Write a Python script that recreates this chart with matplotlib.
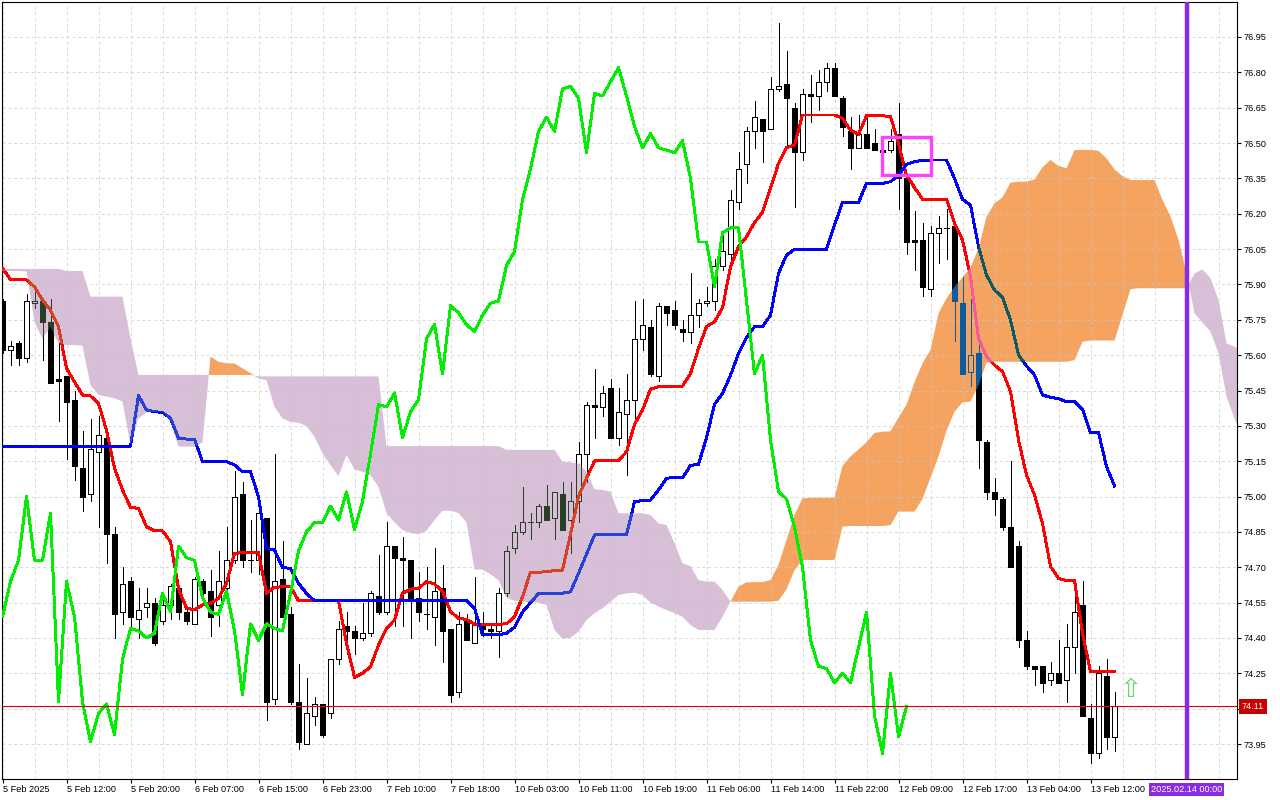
import numpy as np
import matplotlib
matplotlib.use("Agg")
import matplotlib.pyplot as plt
from matplotlib.path import Path
from matplotlib.patches import Rectangle
from matplotlib.transforms import blended_transform_factory, ScaledTranslation

plt.rcParams['font.family'] = ['Liberation Sans', 'DejaVu Sans']

# ---------------- data (H1 bars) ----------------
open_ = [75.83, 75.62, 75.65, 75.59, 75.82, 75.83, 75.74, 75.50, 75.51, 75.41,
         75.12, 75.01, 75.19, 75.25, 74.84, 74.51, 74.64, 74.48, 74.53, 74.55,
         74.47, 74.54, 74.61, 74.51, 74.46, 74.64, 74.60, 74.54, 74.61, 74.73,
         75.01, 74.73, 74.73, 74.91, 74.14, 74.65, 74.50, 74.13, 73.95, 74.07,
         74.12, 74.08, 74.31, 74.45, 74.43, 74.40, 74.42, 74.58, 74.51, 74.79,
         74.74, 74.73, 74.57, 74.50, 74.49, 74.61, 74.44, 74.17, 74.47, 74.38,
         74.45, 74.44, 74.43, 74.59, 74.78, 74.85, 74.89, 74.89, 74.96, 74.91,
         75.01, 74.90, 74.98, 75.18, 75.39, 75.38, 75.46, 75.25, 75.35, 75.41,
         75.67, 75.72, 75.51, 75.81, 75.79, 75.71, 75.70, 75.77, 75.82, 75.83,
         75.98, 76.03, 76.25, 76.41, 76.55, 76.60, 76.56, 76.73, 76.75, 76.65,
         76.46, 76.71, 76.70, 76.76, 76.82, 76.69, 76.55, 76.48, 76.54, 76.50,
         76.47, 76.47, 76.54, 76.35, 76.09, 76.09, 75.88, 76.12, 76.14, 76.15,
         75.82, 75.53, 75.61, 75.23, 75.02, 74.99, 74.87, 74.79, 74.39, 74.28,
         74.28, 74.22, 74.25, 74.22, 74.36, 74.54, 74.06, 73.91, 74.24, 73.98]

high = [75.84, 75.66, 75.66, 75.86, 75.89, 75.84, 75.84, 75.65, 75.51, 75.45,
        75.28, 75.33, 75.34, 75.25, 74.87, 74.70, 74.66, 74.61, 74.61, 74.57,
        74.59, 74.63, 74.62, 74.52, 74.66, 74.65, 74.69, 74.77, 74.87, 75.11,
        75.06, 74.90, 74.96, 74.91, 75.18, 74.81, 74.53, 74.29, 74.23, 74.15,
        74.12, 74.31, 74.47, 74.51, 74.45, 74.55, 74.60, 74.75, 74.89, 74.79,
        74.83, 74.73, 74.68, 74.70, 74.78, 74.71, 74.44, 74.51, 74.50, 74.66,
        74.51, 74.46, 74.61, 74.79, 74.88, 75.04, 74.93, 74.97, 75.05, 75.02,
        75.06, 75.06, 75.23, 75.40, 75.54, 75.47, 75.50, 75.46, 75.52, 75.83,
        75.84, 75.75, 75.82, 75.81, 75.83, 75.75, 75.95, 75.84, 75.89, 76.01,
        76.12, 76.30, 76.46, 76.57, 76.68, 76.60, 76.78, 77.01, 76.89, 76.67,
        76.73, 76.79, 76.81, 76.84, 76.84, 76.70, 76.61, 76.62, 76.62, 76.56,
        76.50, 76.56, 76.67, 76.35, 76.21, 76.16, 76.15, 76.19, 76.22, 76.15,
        75.93, 75.84, 75.65, 75.24, 75.08, 75.00, 75.15, 74.81, 74.43, 74.28,
        74.28, 74.30, 74.39, 74.46, 74.60, 74.64, 74.12, 74.28, 74.31, 74.17]

low = [75.61, 75.56, 75.56, 75.57, 75.80, 75.58, 75.48, 75.32, 75.16, 75.07,
       74.94, 74.98, 74.87, 74.72, 74.40, 74.46, 74.45, 74.40, 74.49, 74.37,
       74.46, 74.48, 74.48, 74.46, 74.46, 74.55, 74.41, 74.45, 74.55, 74.72,
       74.70, 74.68, 74.67, 74.05, 74.12, 74.49, 74.12, 73.93, 73.95, 74.03,
       73.98, 74.06, 74.29, 74.33, 74.33, 74.39, 74.41, 74.50, 74.50, 74.45,
       74.45, 74.40, 74.47, 74.44, 74.37, 74.30, 74.13, 74.15, 74.39, 74.38,
       74.41, 74.40, 74.32, 74.58, 74.76, 74.84, 74.82, 74.87, 74.90, 74.82,
       74.86, 74.76, 74.89, 75.06, 75.25, 75.34, 75.25, 75.22, 75.09, 75.32,
       75.62, 75.51, 75.49, 75.73, 75.71, 75.66, 75.65, 75.72, 75.81, 75.79,
       75.96, 75.98, 76.22, 76.33, 76.48, 76.42, 76.56, 76.72, 76.48, 76.23,
       76.43, 76.59, 76.64, 76.72, 76.70, 76.53, 76.39, 76.48, 76.48, 76.47,
       76.43, 76.46, 76.22, 76.03, 75.96, 75.85, 75.85, 75.99, 76.01, 75.66,
       75.52, 75.47, 75.12, 74.99, 74.92, 74.86, 74.70, 74.36, 74.27, 74.20,
       74.17, 74.20, 74.21, 74.13, 74.25, 74.07, 73.87, 73.89, 73.93, 73.92]

close = [75.62, 75.64, 75.59, 75.83, 75.83, 75.74, 75.48, 75.49, 75.40, 75.13,
         75.00, 75.20, 75.26, 74.84, 74.50, 74.63, 74.49, 74.52, 74.55, 74.38,
         74.54, 74.62, 74.51, 74.47, 74.65, 74.59, 74.49, 74.64, 74.73, 75.00,
         74.73, 74.73, 74.93, 74.13, 74.64, 74.49, 74.13, 73.96, 74.08, 74.12,
         73.99, 74.31, 74.44, 74.43, 74.40, 74.42, 74.59, 74.51, 74.79, 74.74,
         74.73, 74.57, 74.51, 74.50, 74.60, 74.43, 74.16, 74.46, 74.39, 74.46,
         74.44, 74.43, 74.59, 74.77, 74.85, 74.89, 74.89, 74.96, 74.90, 75.02,
         74.86, 74.98, 75.18, 75.39, 75.38, 75.44, 75.25, 75.36, 75.41, 75.67,
         75.73, 75.52, 75.81, 75.78, 75.73, 75.70, 75.77, 75.82, 75.83, 75.98,
         76.04, 76.26, 76.39, 76.55, 76.61, 76.55, 76.73, 76.74, 76.69, 76.46,
         76.71, 76.70, 76.76, 76.82, 76.70, 76.57, 76.48, 76.54, 76.48, 76.47,
         76.46, 76.51, 76.35, 76.08, 76.08, 75.89, 76.12, 76.14, 76.14, 75.83,
         75.52, 75.60, 75.24, 75.02, 74.99, 74.87, 74.70, 74.39, 74.28, 74.27,
         74.21, 74.25, 74.21, 74.36, 74.51, 74.07, 73.91, 74.25, 73.98, 74.11]

tenkan = [75.968, 75.921, 75.921, 75.919, 75.890, 75.834, 75.791, 75.721, 75.544, 75.487,
          75.431, 75.427, 75.395, 75.282, 75.120, 75.028, 74.954, 74.950, 74.872, 74.855,
          74.855, 74.808, 74.610, 74.526, 74.519, 74.540, 74.547, 74.568, 74.632, 74.759,
          74.762, 74.762, 74.762, 74.589, 74.615, 74.617, 74.617, 74.558, 74.558, 74.558,
          74.558, 74.558, 74.558, 74.377, 74.233, 74.250, 74.278, 74.370, 74.441, 74.476,
          74.590, 74.607, 74.611, 74.639, 74.629, 74.597, 74.512, 74.483, 74.479, 74.458,
          74.458, 74.458, 74.458, 74.460, 74.490, 74.575, 74.679, 74.679, 74.681, 74.686,
          74.688, 74.840, 75.000, 75.078, 75.151, 75.151, 75.151, 75.153, 75.190, 75.306,
          75.367, 75.456, 75.466, 75.466, 75.466, 75.469, 75.522, 75.629, 75.721, 75.742,
          75.801, 75.975, 76.060, 76.102, 76.163, 76.206, 76.308, 76.414, 76.481, 76.491,
          76.619, 76.619, 76.619, 76.619, 76.619, 76.605, 76.555, 76.537, 76.616, 76.616,
          76.616, 76.612, 76.499, 76.364, 76.311, 76.261, 76.261, 76.261, 76.261, 76.159,
          76.089, 75.933, 75.671, 75.593, 75.558, 75.530, 75.445, 75.240, 75.091, 75.006,
          74.886, 74.703, 74.653, 74.643, 74.643, 74.420, 74.257, 74.257, 74.257, 74.257]

kijun = [75.214, 75.214, 75.214, 75.214, 75.214, 75.214, 75.214, 75.214, 75.214, 75.214,
         75.214, 75.214, 75.214, 75.214, 75.214, 75.214, 75.214, 75.428, 75.367, 75.360,
         75.357, 75.332, 75.247, 75.244, 75.244, 75.148, 75.148, 75.148, 75.148, 75.134,
         75.105, 75.105, 74.999, 74.780, 74.773, 74.699, 74.695, 74.632, 74.589, 74.558,
         74.558, 74.558, 74.558, 74.558, 74.558, 74.558, 74.558, 74.558, 74.558, 74.558,
         74.558, 74.558, 74.558, 74.558, 74.558, 74.558, 74.558, 74.558, 74.558, 74.526,
         74.413, 74.413, 74.413, 74.420, 74.445, 74.510, 74.550, 74.588, 74.590, 74.590,
         74.590, 74.596, 74.674, 74.755, 74.837, 74.837, 74.837, 74.837, 74.837, 74.978,
         74.983, 74.985, 75.028, 75.078, 75.080, 75.080, 75.132, 75.137, 75.250, 75.391,
         75.438, 75.515, 75.607, 75.674, 75.721, 75.721, 75.770, 75.947, 76.025, 76.049,
         76.049, 76.049, 76.049, 76.049, 76.152, 76.248, 76.248, 76.248, 76.329, 76.329,
         76.329, 76.336, 76.364, 76.410, 76.421, 76.427, 76.428, 76.428, 76.428, 76.350,
         76.261, 76.237, 76.060, 75.940, 75.876, 75.845, 75.749, 75.601, 75.554, 75.516,
         75.431, 75.421, 75.415, 75.403, 75.403, 75.370, 75.271, 75.271, 75.127, 75.045]

# Senkou spans, already shifted 26 bars forward (bar 0 .. 155)
span_a = [75.957, 75.957, 75.957, 75.955, 75.740, 75.670, 75.720, 75.650, 75.643, 75.643,
          75.640, 75.473, 75.431, 75.424, 75.417, 75.403, 75.219, 75.332, 75.357, 75.360,
          75.360, 75.318, 75.212, 75.212, 75.212, 75.230, 75.594, 75.572, 75.565, 75.565,
          75.544, 75.524, 75.500, 75.494, 75.381, 75.331, 75.317, 75.313, 75.299, 75.254,
          75.183, 75.133, 75.087, 75.176, 75.115, 75.105, 75.091, 75.041, 74.930, 74.890,
          74.858, 74.845, 74.840, 74.855, 74.900, 74.940, 74.940, 74.930, 74.890, 74.690,
          74.690, 74.670, 74.645, 74.570, 74.558, 74.554, 74.551, 74.550, 74.540, 74.434,
          74.396, 74.401, 74.427, 74.476, 74.505, 74.526, 74.554, 74.582, 74.589, 74.592,
          74.582, 74.550, 74.533, 74.519, 74.505, 74.490, 74.455, 74.434, 74.434, 74.434,
          74.490, 74.554, 74.618, 74.636, 74.637, 74.637, 74.646, 74.710, 74.816, 74.922,
          74.992, 74.995, 74.995, 74.995, 74.995, 75.130, 75.170, 75.200, 75.230, 75.270,
          75.275, 75.277, 75.335, 75.389, 75.485, 75.565, 75.622, 75.777, 75.841, 75.890,
          75.930, 75.972, 76.053, 76.188, 76.244, 76.270, 76.332, 76.336, 76.336, 76.346,
          76.397, 76.428, 76.403, 76.393, 76.470, 76.471, 76.471, 76.467, 76.435, 76.388,
          76.360, 76.343, 76.343, 76.343, 76.343, 76.258, 76.188, 76.089, 75.947, 75.778,
          75.738, 75.700, 75.608, 75.424, 75.332, 75.250]

span_b = [75.966, 75.966, 75.966, 75.966, 75.966, 75.966, 75.966, 75.966, 75.957, 75.957,
          75.957, 75.848, 75.848, 75.848, 75.848, 75.848, 75.671, 75.516, 75.516, 75.516,
          75.516, 75.516, 75.516, 75.516, 75.516, 75.516, 75.516, 75.516, 75.516, 75.516,
          75.516, 75.516, 75.510, 75.510, 75.510, 75.510, 75.510, 75.510, 75.510, 75.510,
          75.510, 75.510, 75.510, 75.510, 75.510, 75.510, 75.510, 75.510, 75.214, 75.214,
          75.214, 75.214, 75.214, 75.214, 75.214, 75.214, 75.214, 75.214, 75.214, 75.214,
          75.214, 75.214, 75.214, 75.198, 75.198, 75.198, 75.198, 75.198, 75.198, 75.198,
          75.148, 75.145, 75.141, 75.106, 75.031, 75.028, 75.021, 74.929, 74.929, 74.929,
          74.929, 74.922, 74.886, 74.879, 74.802, 74.717, 74.705, 74.646, 74.639, 74.639,
          74.604, 74.554, 74.554, 74.554, 74.554, 74.554, 74.554, 74.558, 74.606, 74.688,
          74.731, 74.731, 74.731, 74.731, 74.731, 74.872, 74.875, 74.875, 74.875, 74.875,
          74.875, 74.879, 74.936, 74.936, 74.936, 74.990, 75.080, 75.170, 75.280, 75.360,
          75.400, 75.403, 75.473, 75.568, 75.572, 75.572, 75.572, 75.572, 75.572, 75.572,
          75.572, 75.572, 75.572, 75.572, 75.579, 75.657, 75.662, 75.662, 75.662, 75.662,
          75.770, 75.880, 75.884, 75.884, 75.884, 75.884, 75.884, 75.884, 75.884, 75.947,
          75.964, 75.926, 75.834, 75.650, 75.636, 75.620]

x_labels = ["5 Feb 2025", "5 Feb 12:00", "5 Feb 20:00", "6 Feb 07:00", "6 Feb 15:00",
            "6 Feb 23:00", "7 Feb 10:00", "7 Feb 18:00", "10 Feb 03:00", "10 Feb 11:00",
            "10 Feb 19:00", "11 Feb 06:00", "11 Feb 14:00", "11 Feb 22:00", "12 Feb 09:00",
            "12 Feb 17:00", "13 Feb 04:00", "13 Feb 12:00"]
highlight_label = "2025.02.14 00:00"
highlight_bar = 148
bid_price = 74.11
price_ticks = [73.95, 74.10, 74.25, 74.40, 74.55, 74.70, 74.85, 75.00, 75.15, 75.30, 75.45,
               75.60, 75.75, 75.90, 76.05, 76.20, 76.35, 76.50, 76.65, 76.80, 76.95]
chikou_shift = 26

# annotation objects on the chart
box_bars = (109.9, 116.0)
box_prices = (76.366, 76.526)
arrow_bar, arrow_price = 141, 74.18

# ---------------- figure ----------------
fig = plt.figure(figsize=(12.8, 8), dpi=100)
fig.patch.set_facecolor('white')
ax = fig.add_axes([2 / 1280, 21 / 800, 1235 / 1280, 777 / 800])
ax.set_facecolor('white')
ax.set_xlim(-0.0625, 154.31)
ax.set_ylim(73.8015, 77.0985)

ORANGE = (244, 164, 96)
THISTLE = (216, 191, 216)


def hexc(rgb):
    return '#%02x%02x%02x' % tuple(rgb)


def notxor(c, k):
    return tuple(255 - (a ^ b) for a, b in zip(c, k))


# cloud
A = np.array(span_a)
B = np.array(span_b)
xc = np.arange(len(A))
orange_fill = ax.fill_between(xc, A, B, where=A >= B, interpolate=True,
                              facecolor=hexc(ORANGE), edgecolor='none', lw=0, zorder=1)
purple_fill = ax.fill_between(xc, A, B, where=A < B, interpolate=True,
                              facecolor=hexc(THISTLE), edgecolor='none', lw=0, zorder=1)
clip_orange = Path.make_compound_path(*orange_fill.get_paths())
clip_purple = Path.make_compound_path(*purple_fill.get_paths())

# candles
O = np.array(open_)
H = np.array(high)
L = np.array(low)
C = np.array(close)
xb = np.arange(len(C))
up = C > O


def draw_candles(dark, light, z, clip=None):
    wick = ax.vlines(xb, L, H, colors=dark, linewidth=0.7, zorder=z, antialiased=False)
    bodies = ax.bar(xb, C - O, bottom=O, width=0.6,
                    color=[light if u else dark for u in up],
                    edgecolor=dark, linewidth=0.6, zorder=z + 0.01, antialiased=False)
    arts = [wick] + list(bodies.patches)
    if clip is not None:
        for a in arts:
            a.set_clip_path(clip, ax.transData)


draw_candles('#000000', '#ffffff', 2)
draw_candles(hexc(notxor((0, 0, 0), ORANGE)), hexc(ORANGE), 2.2, clip_orange)
draw_candles(hexc(notxor((0, 0, 0), THISTLE)), hexc(THISTLE), 2.3, clip_purple)

# tenkan / kijun
LW = 1.4
ax.plot(xb, tenkan, color='#ff0000', lw=LW, zorder=3, antialiased=False)
ax.plot(xb, kijun, color='#0000ff', lw=LW, zorder=3, antialiased=False)
for k, clp in ((ORANGE, clip_orange), (THISTLE, clip_purple)):
    l1, = ax.plot(xb, tenkan, color=hexc(notxor((255, 0, 0), k)), lw=LW, zorder=3.1, antialiased=False)
    l1.set_clip_path(clp, ax.transData)
    l2, = ax.plot(xb, kijun, color=hexc(notxor((0, 0, 255), k)), lw=LW, zorder=3.1, antialiased=False)
    l2.set_clip_path(clp, ax.transData)

# chikou span: closes plotted 26 bars back
ax.plot(xb[:len(C) - chikou_shift], C[chikou_shift:], color='#00ee00', lw=LW, zorder=4,
        antialiased=False)

# bid line and date marker
ax.axhline(bid_price, color='#dd0000', lw=0.8, zorder=4.5)
ax.axvline(highlight_bar, color='#8a2be2', lw=3.2, zorder=4.6)

# annotation objects
ax.add_patch(Rectangle((box_bars[0], box_prices[0]), box_bars[1] - box_bars[0],
                       box_prices[1] - box_prices[0], fill=False, edgecolor='#ff40ff',
                       lw=2.4, zorder=6))
ax.text(arrow_bar, arrow_price, '\u21e7', color='#6ad86a', fontsize=19, ha='center',
        va='center', family='DejaVu Sans', zorder=6)

# axes, ticks, grid
label_bars = list(range(0, 8 * len(x_labels), 8))
ax.set_xticks(label_bars)
ax.set_xticklabels(x_labels, ha='left')
ax.set_xticks([b for b in range(4, 153, 4) if b not in label_bars], minor=True)
ax.set_yticks(price_ticks)
# the tick label at the bid price is covered by the bid box in the reference
ax.set_yticklabels(['' if abs(p - bid_price) < 0.05 else '%.2f' % p for p in price_ticks])
ax.yaxis.tick_right()
ax.tick_params(axis='y', which='major', direction='out', length=3, width=0.8, pad=1.5,
               labelsize=6.6, colors='black')
ax.tick_params(axis='x', which='major', direction='out', length=3, width=0.8, pad=1.5,
               labelsize=6.6, colors='black')
ax.tick_params(axis='x', which='minor', length=0)
ax.tick_params(axis='y', which='minor', length=0)
ax.set_axisbelow('line')
ax.grid(True, which='both', axis='x', color='#c8c8c8', ls=(0, (3, 3)), lw=0.7, alpha=0.7)
ax.grid(True, which='major', axis='y', color='#c8c8c8', ls=(0, (3, 3)), lw=0.7, alpha=0.7)
for s in ax.spines.values():
    s.set_color('black')
    s.set_linewidth(0.8)

# price label for bid
t_bid = blended_transform_factory(ax.transAxes, ax.transData) + \
    ScaledTranslation(5 / 100, 0, fig.dpi_scale_trans)
ax.text(1.0, bid_price, '%.2f' % bid_price, transform=t_bid, ha='left', va='center',
        fontsize=6.6, color='white', clip_on=False, zorder=10,
        bbox=dict(boxstyle='square,pad=0.3', fc='#c80000', ec='none'))

# highlighted date label
t_date = blended_transform_factory(ax.transData, ax.transAxes) + \
    ScaledTranslation(0, -6 / 100, fig.dpi_scale_trans)
ax.text(highlight_bar, 0, highlight_label, transform=t_date, ha='center', va='top',
        fontsize=6.6, color='white', clip_on=False, zorder=10,
        bbox=dict(boxstyle='square,pad=0.25', fc='#8a2be2', ec='none'))

fig.savefig('out.png', dpi=100, facecolor='white')
